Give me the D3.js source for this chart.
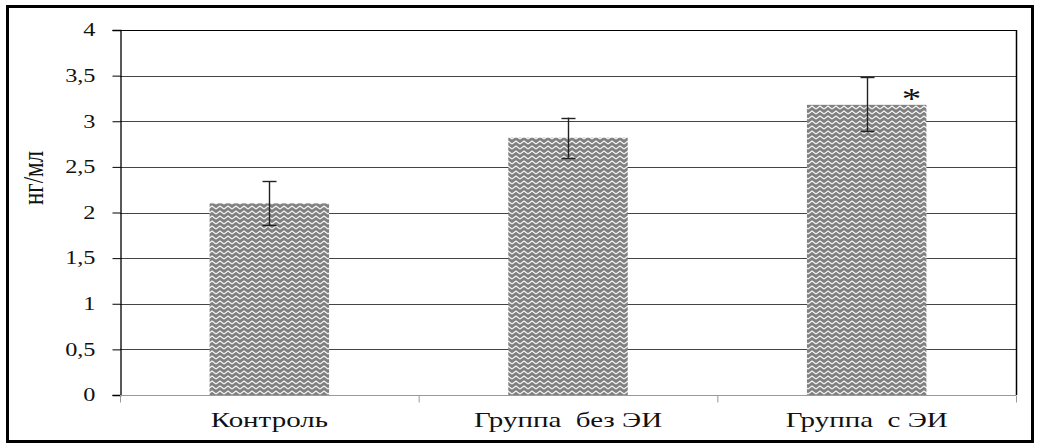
<!DOCTYPE html>
<html lang="ru">
<head>
<meta charset="UTF-8">
<title>нг/мл</title>
<style>
    body { margin: 0; background: #fff; }
    svg { display: block; }
    svg text { font-family: "Liberation Serif", "DejaVu Serif", serif; fill: #111; }
</style>
</head>
<body>
<svg width="1039" height="448"></svg>
<script src="https://d3js.org/d3.v7.min.js"></script>
<script>
    const categories = ["Контроль", "Группа  без ЭИ", "Группа  с ЭИ"];
    const values = [2.1, 2.82, 3.18];
    const errLow = [1.86, 2.6, 2.89];
    const errHigh = [2.34, 3.04, 3.48];
    const marks = ["", "", "*"];
    const yTicks = [0, 0.5, 1, 1.5, 2, 2.5, 3, 3.5, 4];
    const yTickLabels = ["0", "0,5", "1", "1,5", "2", "2,5", "3", "3,5", "4"];

    const svg = d3.select("svg");
    const plotL = 120, plotR = 1016, plotT = 30, plotB = 395;
    const stretch = 1.45; // the source picture is widened sideways

    // outer frame
    svg.append("rect")
        .attr("x", 7.5).attr("y", 6.5)
        .attr("width", 1025).attr("height", 435)
        .attr("fill", "none").attr("stroke", "#000").attr("stroke-width", 3);

    // zigzag fill
    const pat = svg.append("defs").append("pattern")
        .attr("id", "zig").attr("patternUnits", "userSpaceOnUse")
        .attr("width", 8).attr("height", 5);
    pat.append("rect").attr("width", 8).attr("height", 5).attr("fill", "#808080");
    pat.append("path")
        .attr("d", "M0,4 L4,1 L8,4 M0,9 L4,6 L8,9 M0,-1 L4,-4 L8,-1")
        .attr("stroke", "#f4f4f4").attr("stroke-width", 1.3).attr("fill", "none");

    const x = d3.scaleBand().domain(categories).range([plotL, plotR]).paddingInner(0).paddingOuter(0);
    const y = d3.scaleLinear().domain([0, 4]).range([plotB, plotT]);
    const barW = x.bandwidth() * 0.4;

    // gridlines
    svg.append("g")
        .selectAll("line").data(yTicks.filter(d => d > 0)).enter().append("line")
        .attr("x1", plotL).attr("x2", plotR)
        .attr("y1", d => Math.round(y(d)) + 0.5).attr("y2", d => Math.round(y(d)) + 0.5)
        .attr("stroke", d => d === 4 ? "#000" : "#444");

    // right border of plot area
    svg.append("line")
        .attr("x1", plotR + 0.5).attr("x2", plotR + 0.5)
        .attr("y1", plotT).attr("y2", plotB)
        .attr("stroke", "#000").attr("stroke-width", 1.5);

    // bars
    svg.selectAll(".bar").data(values).enter().append("rect")
        .attr("class", "bar")
        .attr("x", (d, i) => x(categories[i]) + (x.bandwidth() - barW) / 2)
        .attr("y", d => y(d))
        .attr("width", barW)
        .attr("height", d => y(0) - y(d))
        .attr("fill", "url(#zig)");

    // y axis
    const yAxis = d3.axisLeft(y).tickValues(yTicks)
        .tickFormat((d, i) => yTickLabels[i]).tickSize(8).tickPadding(12);
    const gy = svg.append("g").attr("transform", `translate(${plotL + 0.5},0)`).call(yAxis);
    gy.attr("font-family", null).attr("font-size", null);
    gy.select(".domain").attr("stroke", "#000").attr("stroke-width", 1.3);
    gy.selectAll(".tick line").attr("stroke", "#000");
    gy.selectAll(".tick text")
        .attr("x", 0)
        .attr("transform", `translate(-25,0) scale(1.35,1)`)
        .style("font-size", "18px").attr("fill", "#111");

    // x axis
    const gx = svg.append("g").attr("transform", `translate(0,${plotB + 0.5})`);
    gx.append("line").attr("x1", plotL).attr("x2", plotR)
        .attr("stroke", "#999").attr("stroke-width", 1.2);
    const bounds = categories.map(c => x(c)).concat([plotR]);
    gx.selectAll(".xt").data(bounds).enter().append("line")
        .attr("x1", d => d + 0.5).attr("x2", d => d + 0.5)
        .attr("y1", 0).attr("y2", 7).attr("stroke", "#999");
    gx.selectAll(".xl").data(categories).enter().append("text")
        .attr("transform", d => `translate(${x(d) + x.bandwidth() / 2},31) scale(${stretch},1)`)
        .attr("text-anchor", "middle")
        .style("font-size", "20px")
        .style("white-space", "pre")
        .text(d => d);

    // error bars
    const eb = svg.append("g");
    categories.forEach((c, i) => {
        const cx = Math.round(x(c) + x.bandwidth() / 2) + 0.5;
        eb.append("line").attr("x1", cx).attr("x2", cx)
            .attr("y1", y(errHigh[i])).attr("y2", y(errLow[i]))
            .attr("stroke", "#222").attr("stroke-width", 1.4);
        [errHigh[i], errLow[i]].forEach(v => {
            eb.append("line").attr("x1", cx - 7).attr("x2", cx + 7)
                .attr("y1", Math.round(y(v)) + 0.5).attr("y2", Math.round(y(v)) + 0.5)
                .attr("stroke", "#222").attr("stroke-width", 1.4);
        });
        if (marks[i]) {
            svg.append("text")
                .attr("transform", `translate(${x(c) + x.bandwidth() / 2 + barW / 2 - 15},${y(values[i]) + 3}) scale(1.3,1)`)
                .attr("text-anchor", "middle")
                .style("font-size", "30px")
                .text(marks[i]);
        }
    });

    // y label
    svg.append("text")
        .attr("transform", "translate(43,178) scale(1.3,1) rotate(-90)")
        .attr("text-anchor", "middle")
        .style("font-size", "23px")
        .text("нг/мл");
</script>
</body>
</html>
